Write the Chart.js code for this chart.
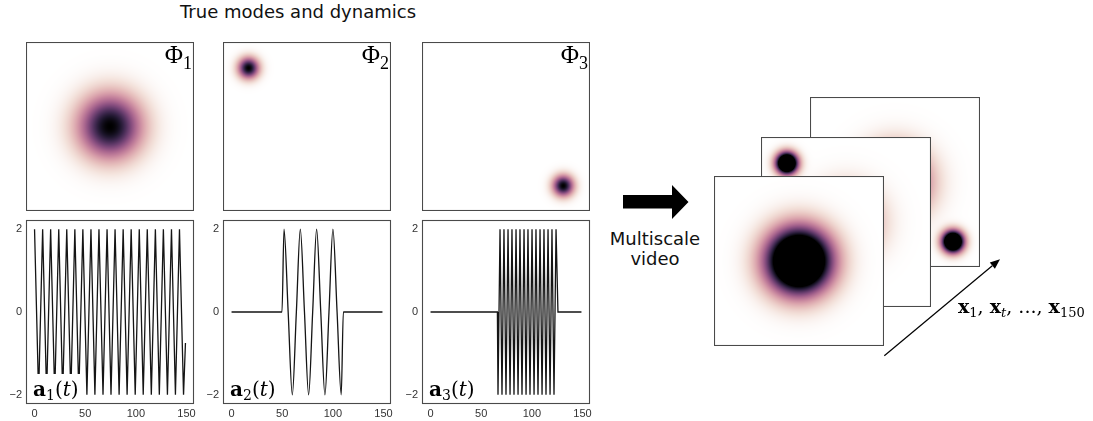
<!DOCTYPE html>
<html><head><meta charset="utf-8">
<script src="https://cdn.jsdelivr.net/npm/chart.js@4.4.0/dist/chart.umd.min.js"></script>
<style>
html,body{margin:0;padding:0;background:#fff;}
#wrap{position:relative;width:1093px;height:421px;overflow:hidden;background:#fff;}
canvas{position:absolute;}
.t{position:absolute;white-space:nowrap;color:#000;}
.title{font-family:"DejaVu Sans";font-size:18px;line-height:18px;color:#111;}
.phi{font-family:"Liberation Serif";font-size:25px;line-height:25px;text-align:right;}
.phi span{font-size:18px;position:relative;top:6px;}
.sig{font-family:"DejaVu Serif";font-size:20px;line-height:20px;}
.sig b{font-weight:bold;}
.sig .s{font-size:14px;position:relative;top:4px;}
.box{position:absolute;background:#fff;}
.ms{font-family:"DejaVu Sans";font-size:18px;line-height:20px;text-align:center;width:120px;color:#111;}
.xl{font-family:"DejaVu Serif";font-size:19px;line-height:19px;}
.xl .s{font-size:13px;position:relative;top:4px;}
svg{position:absolute;left:0;top:0;}
</style></head><body>
<div id="wrap">
  <div class="t title" style="left:180px;top:3px;">True modes and dynamics</div>

  <canvas id="m1" width="168" height="169" style="left:26px;top:42px;"></canvas>
  <canvas id="m2" width="168" height="169" style="left:223px;top:42px;"></canvas>
  <canvas id="m3" width="168" height="169" style="left:422px;top:42px;"></canvas>

  <canvas id="s1" width="196" height="206" style="left:3px;top:215px;"></canvas>
  <canvas id="s2" width="196" height="206" style="left:200px;top:215px;"></canvas>
  <canvas id="s3" width="196" height="206" style="left:399px;top:215px;"></canvas>

  <div class="t phi" style="left:100px;width:92px;top:42px;">Φ<span>1</span></div>
  <div class="t phi" style="left:297px;width:92px;top:42px;">Φ<span>2</span></div>
  <div class="t phi" style="left:496px;width:92px;top:42px;">Φ<span>3</span></div>

  <div class="box" style="left:28px;top:374px;width:57px;height:28px;"></div>
  <div class="box" style="left:225px;top:374px;width:57px;height:28px;"></div>
  <div class="box" style="left:424px;top:374px;width:57px;height:28px;"></div>
  <div class="t sig" style="left:33px;top:379px;"><b>a</b><span class="s">1</span>(<i>t</i>)</div>
  <div class="t sig" style="left:230px;top:379px;"><b>a</b><span class="s">2</span>(<i>t</i>)</div>
  <div class="t sig" style="left:429px;top:379px;"><b>a</b><span class="s">3</span>(<i>t</i>)</div>

  <div class="t ms" style="left:595px;top:229px;">Multiscale<br>video</div>

  <canvas id="f3" width="170" height="170" style="left:810px;top:97px;"></canvas>
  <canvas id="f2" width="170" height="170" style="left:761px;top:137px;"></canvas>
  <canvas id="f1" width="170" height="170" style="left:714px;top:176px;"></canvas>

  <svg width="1093" height="421" viewBox="0 0 1093 421">
    <polygon points="623,195 672,195 672,185 688.5,202 672,219 672,208.5 623,208.5" fill="#000"/>
    <line x1="884.3" y1="355.7" x2="992.3" y2="265.7" stroke="#000" stroke-width="1.2"/>
    <polygon points="1000,259.3 994.9,268.8 989.8,262.6" fill="#000"/>
  </svg>
  <div class="t xl" style="left:958px;top:297px;"><b>x</b><span class="s">1</span>, <b>x</b><span class="s"><i>t</i></span>, ..., <b>x</b><span class="s">150</span></div>
</div>
<script>
// ---- data ----
const TIME_TICKS = [0, 50, 100, 150];
const VALUE_TICKS = [-2, 0, 2];

// a1(t): turning points of the fast oscillation
const A1_T = [0, 4.0, 8.0, 11.9, 15.9, 19.9, 23.9, 27.8, 31.8, 35.8, 39.8, 43.7, 47.7, 51.7, 55.7, 59.6,
  63.6, 67.6, 71.6, 75.5, 79.5, 83.5, 87.5, 91.4, 95.4, 99.4, 103.4, 107.3, 111.3, 115.3, 119.3, 123.2,
  127.2, 131.2, 135.2, 139.1, 143.1, 147.1, 149];
const A1_V = [2, -2, 2, -2, 2, -2, 2, -2, 2, -2, 2, -2, 2, -2, 2, -2,
  2, -2, 2, -2, 2, -2, 2, -2, 2, -2, 2, -2, 2, -2, 2, -2,
  2, -2, 2, -2, 2, -2, -0.75];

// a2(t): burst between t=50 and t=110
const A2_T = [0, 49.8, 51.8, 55.9, 60.0, 64.0, 67.9, 72.0, 76.1, 80.1, 84.0, 88.1, 92.2, 96.2, 100.1, 104.2, 108.3, 110.4, 149];
const A2_V = [0, 0, 2, 0, -2, 0, 2, 0, -2, 0, 2, 0, -2, 0, 2, 0, -2, 0, 0];

// a3(t): fast burst between t=66 and t=126
const A3_T = [0, 66.0, 66.6, 68.6, 70.55, 72.5, 74.5, 76.5, 78.5, 80.4, 82.4, 84.4, 86.4, 88.3, 90.3, 92.3,
  94.3, 96.2, 98.2, 100.2, 102.2, 104.1, 106.1, 108.1, 110.1, 112.0, 114.0, 116.0, 118.0, 119.9, 121.9, 123.9, 125.8, 149];
const A3_V = [0, 0, -2, 2, -2, 2, -2, 2, -2, 2, -2, 2, -2, 2, -2, 2,
  -2, 2, -2, 2, -2, 2, -2, 2, -2, 2, -2, 2, -2, 2, -2, 2, 0, 0];

// spatial modes (grid 0..100, y downwards)
const MODE_X = [50, 14.8, 84.5];
const MODE_Y = [50, 15.0, 85.5];
const MODE_WIDTH = [13, 4.3, 4.3];

// mode weights shown in each panel / video frame
const PANEL_1 = [1, 0, 0];
const PANEL_2 = [0, 1, 0];
const PANEL_3 = [0, 0, 1];
const FRAME_FRONT = [2, 0, 0];
const FRAME_MIDDLE = [0.7, 2, 0];
const FRAME_BACK = [1.1, 0, 2];

// colour ramp (white -> pink -> purple -> black)
const CMAP = ['#ffffff','#f3e1da','#e7c1be','#d9a1ab','#c4829c','#aa678f','#894f80','#643b6b','#3f284f','#1c152b','#000000'];

// ---- drawing ----
const RGB = CMAP.map(h => [parseInt(h.substr(1,2),16), parseInt(h.substr(3,2),16), parseInt(h.substr(5,2),16)]);
function cmap(v) {
  v = Math.max(0, Math.min(1, v));
  const f = v * (RGB.length - 1);
  const i = Math.min(RGB.length - 2, Math.floor(f));
  const r = f - i;
  return [0,1,2].map(k => RGB[i][k] + (RGB[i+1][k] - RGB[i][k]) * r);
}

const framePlugin = {
  id: 'frameBox',
  afterDraw(chart) {
    const {ctx, chartArea: a} = chart;
    ctx.save();
    ctx.strokeStyle = '#4a4a4a';
    ctx.lineWidth = 1.1;
    ctx.strokeRect(Math.round(a.left) - 0.5, Math.round(a.top) - 0.5, Math.round(a.right - a.left) + 1, Math.round(a.bottom - a.top) + 1);
    ctx.restore();
  }
};

const fieldPlugin = {
  id: 'gaussField',
  beforeDraw(chart) {
    const ctx = chart.ctx;
    ctx.save(); ctx.fillStyle = '#fff'; ctx.fillRect(0, 0, chart.width, chart.height); ctx.restore();
  },
  beforeDatasetsDraw(chart) {
    const {ctx, chartArea: a, scales: {x, y}} = chart;
    const L = Math.round(a.left), T = Math.round(a.top);
    const W = Math.round(a.right) - L, H = Math.round(a.bottom) - T;
    const img = ctx.createImageData(W, H);
    const pts = chart.data.datasets[0].data;
    for (let j = 0; j < H; j++) {
      const vy = y.getValueForPixel(T + j + 0.5);
      for (let i = 0; i < W; i++) {
        const vx = x.getValueForPixel(L + i + 0.5);
        let v = 0;
        for (const p of pts) {
          const dx = vx - p.x, dy = vy - p.y;
          v += p.a * Math.exp(-(dx * dx + dy * dy) / (2 * p.s * p.s));
        }
        const c = cmap(v);
        const o = (j * W + i) * 4;
        img.data[o] = c[0]; img.data[o+1] = c[1]; img.data[o+2] = c[2]; img.data[o+3] = 255;
      }
    }
    ctx.putImageData(img, L, T);
  }
};

function fieldChart(id, weights) {
  const pts = [];
  weights.forEach((w, i) => { if (w > 0) pts.push({x: MODE_X[i], y: MODE_Y[i], s: MODE_WIDTH[i], a: w}); });
  return new Chart(document.getElementById(id), {
    type: 'scatter',
    data: {datasets: [{data: pts, pointRadius: 0, pointHoverRadius: 0}]},
    options: {
      responsive: false, animation: false, devicePixelRatio: 1, events: [],
      layout: {padding: 1},
      plugins: {legend: {display: false}, tooltip: {enabled: false}},
      scales: {
        x: {type: 'linear', min: 0, max: 100, display: false},
        y: {type: 'linear', min: 0, max: 100, reverse: true, display: false}
      }
    },
    plugins: [fieldPlugin, framePlugin]
  });
}

const tickFont = {family: 'Liberation Sans', size: 11};
const fmt = v => (v < 0 ? '\u2212' + Math.abs(v) : String(v));

function signalChart(id, T, V, smooth) {
  const pts = T.map((t, i) => ({x: t, y: V[i]}));
  return new Chart(document.getElementById(id), {
    type: 'line',
    data: {datasets: [{data: pts, borderColor: '#151515', borderWidth: 1.3, pointRadius: 0,
      tension: 0, cubicInterpolationMode: smooth ? 'monotone' : 'default', fill: false}]},
    options: {
      responsive: false, animation: false, devicePixelRatio: 1, events: [],
      layout: {padding: {left: 0, right: 6, top: 6, bottom: 0}},
      plugins: {legend: {display: false}, tooltip: {enabled: false}},
      scales: {
        x: {type: 'linear', min: -7.45, max: 156.45,
          grid: {display: false, drawTicks: false}, border: {display: false},
          afterBuildTicks: s => { s.ticks = TIME_TICKS.map(v => ({value: v})); },
          afterFit: s => { s.height = 18; s.paddingLeft = 0; s.paddingRight = 0; },
          ticks: {font: tickFont, color: '#333', padding: 4, maxRotation: 0, autoSkip: false, callback: v => fmt(v)}},
        y: {type: 'linear', min: -2.2, max: 2.2,
          grid: {display: false, drawTicks: false}, border: {display: false},
          afterBuildTicks: s => { s.ticks = VALUE_TICKS.map(v => ({value: v})); },
          afterFit: s => { s.width = 24; s.paddingTop = 0; s.paddingBottom = 0; },
          ticks: {font: tickFont, color: '#333', padding: 5, autoSkip: false, callback: v => fmt(v)}}
      }
    },
    plugins: [framePlugin]
  });
}

fieldChart('m1', PANEL_1);
fieldChart('m2', PANEL_2);
fieldChart('m3', PANEL_3);
signalChart('s1', A1_T, A1_V, false);
signalChart('s2', A2_T, A2_V, true);
signalChart('s3', A3_T, A3_V, false);
fieldChart('f3', FRAME_BACK);
fieldChart('f2', FRAME_MIDDLE);
fieldChart('f1', FRAME_FRONT);
</script>
</body></html>
